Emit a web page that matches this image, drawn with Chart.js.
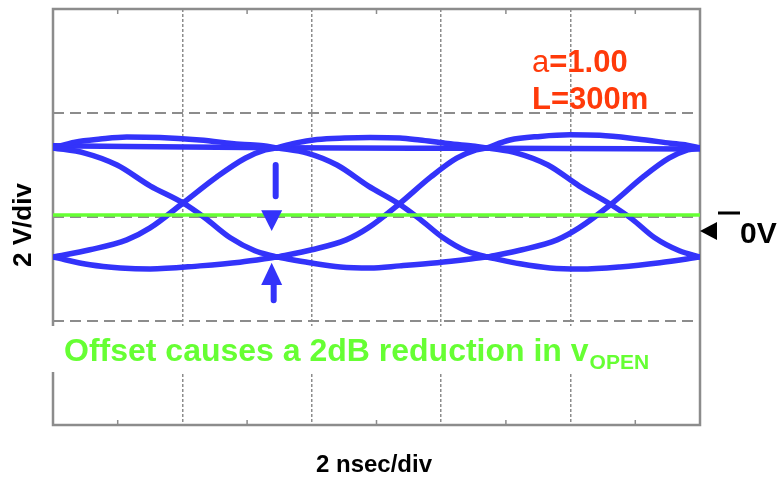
<!DOCTYPE html>
<html>
<head>
<meta charset="utf-8">
<script src="https://cdn.jsdelivr.net/npm/chart.js@4/dist/chart.umd.min.js"></script>
<style>
  html, body { margin: 0; padding: 0; background: #ffffff; }
  #wrap { position: relative; width: 780px; height: 477px; }
</style>
</head>
<body>
<div id="wrap"><canvas id="eye"></canvas></div>
<script>
// Eye diagram: time in ns (2 ns/div), amplitude in volts (2 V/div)
const xTicks = [0, 2, 4, 6, 8, 10];
const yTicks = [-4, -2, 0, 2, 4];

// falling transitions, one per bit period
const fallEdge1 = [[0,1.33],[0.49,1.23],[0.99,1.00],[1.50,0.60],[2.01,0.27],[2.35,-0.02],[2.74,-0.40],[3.12,-0.65],[3.46,-0.77]];
const fallEdge2 = [[3.46,1.33],[3.93,1.23],[4.39,1.00],[4.87,0.60],[5.35,0.25],[5.67,-0.04],[6.03,-0.40],[6.38,-0.65],[6.71,-0.77]];
const fallEdge3 = [[6.71,1.33],[7.17,1.23],[7.65,1.00],[8.13,0.60],[8.62,0.24],[8.95,-0.04],[9.30,-0.40],[9.68,-0.65],[10,-0.77]];

// rising transitions
const riseEdge1 = [[0,-0.77],[0.57,-0.63],[1.14,-0.44],[1.50,-0.21],[2.01,0.27],[2.53,0.77],[2.97,1.13],[3.28,1.29],[3.46,1.33]];
const riseEdge2 = [[3.46,-0.77],[4.00,-0.63],[4.53,-0.44],[4.87,-0.21],[5.35,0.25],[5.84,0.77],[6.24,1.13],[6.54,1.29],[6.71,1.33]];
const riseEdge3 = [[6.71,-0.77],[7.25,-0.63],[7.79,-0.44],[8.13,-0.21],[8.62,0.24],[9.12,0.77],[9.52,1.13],[9.81,1.29],[10,1.33]];

// overshoot humps on the "1" level
const upperArc1 = [[0,1.33],[0.34,1.44],[0.73,1.50],[1.14,1.54],[1.65,1.53],[2.27,1.48],[2.89,1.40],[3.25,1.37],[3.46,1.33]];
const upperArc2 = [[3.46,1.33],[3.74,1.42],[4.08,1.49],[4.51,1.52],[4.90,1.53],[5.36,1.52],[5.67,1.48],[6.06,1.42],[6.45,1.37],[6.71,1.33]];
const upperArc3 = [[6.71,1.33],[7.06,1.48],[7.53,1.55],[7.99,1.58],[8.45,1.57],[9.03,1.50],[9.54,1.42],[9.80,1.38],[10,1.33]];

// settled "1" level
const upperRail = [[0,1.37],[3.46,1.33],[6.71,1.32],[10,1.31]];

// undershoot dips on the "0" level
const lowerArc1 = [[0,-0.77],[0.57,-0.92],[1.04,-0.98],[1.50,-1.00],[2.27,-0.94],[2.89,-0.87],[3.46,-0.77]];
const lowerArc2 = [[3.46,-0.77],[3.97,-0.88],[4.44,-0.96],[4.90,-0.98],[5.36,-0.94],[5.94,-0.88],[6.71,-0.77]];
const lowerArc3 = [[6.71,-0.77],[7.22,-0.90],[7.68,-0.98],[8.15,-1.00],[8.76,-0.96],[9.38,-0.88],[10,-0.77]];

// decision threshold level
const thresholdLine = [[0,0.04],[10,0.04]];

// eye-opening markers (ns, V)
const markerX = 3.38;
const downShaft = [1.00, 0.40];
const downHead = [0.13, -0.27];
const upHead = [-0.88, -1.31];
const upShaft = [-1.31, -1.60];

const traces = [
  fallEdge1, fallEdge2, fallEdge3,
  riseEdge1, riseEdge2, riseEdge3,
  upperArc1, upperArc2, upperArc3,
  upperRail,
  lowerArc1, lowerArc2, lowerArc3
];

const BLUE = '#3333fa';
const GREEN = '#66ff33';
const ORANGE = '#ff3a0a';
const GRID = '#8c8c8c';
const FONT = '"Liberation Sans", Arial, Helvetica, sans-serif';

const toXY = arr => arr.map(p => ({ x: p[0], y: p[1] }));

const datasets = [{
  data: toXY(thresholdLine),
  borderColor: GREEN,
  borderWidth: 3.5,
  pointRadius: 0,
  order: -1
}].concat(traces.map(t => ({
  data: toXY(t),
  borderColor: BLUE,
  borderWidth: 5.5,
  pointRadius: 0,
  cubicInterpolationMode: 'monotone',
  borderCapStyle: 'round',
  borderJoinStyle: 'round'
})));

const scopeDecor = {
  id: 'scopeDecor',
  beforeDatasetsDraw(chart) {
    const { ctx, chartArea: a, scales: { x } } = chart;
    ctx.save();
    // frame
    ctx.strokeStyle = GRID;
    ctx.lineWidth = 2.5;
    ctx.setLineDash([]);
    ctx.strokeRect(a.left, a.top, a.right - a.left, a.bottom - a.top);
    // minor ticks on top and bottom edges
    ctx.lineWidth = 1.5;
    [1, 3, 5, 7, 9].forEach(v => {
      const px = x.getPixelForValue(v);
      ctx.beginPath();
      ctx.moveTo(px, a.top); ctx.lineTo(px, a.top + 5);
      ctx.moveTo(px, a.bottom); ctx.lineTo(px, a.bottom - 5);
      ctx.stroke();
    });
    // caption panel
    ctx.fillStyle = '#ffffff';
    ctx.fillRect(a.left - 4, 326, 612, 46);
    ctx.fillStyle = GREEN;
    ctx.textBaseline = 'alphabetic';
    ctx.textAlign = 'left';
    ctx.font = 'bold 32px ' + FONT;
    const main = 'Offset causes a 2dB reduction in v';
    ctx.fillText(main, 64, 361);
    const w = ctx.measureText(main).width;
    ctx.font = 'bold 21px ' + FONT;
    ctx.fillText('OPEN', 64 + w + 1, 369);
    ctx.restore();
  },
  afterDatasetsDraw(chart) {
    const { ctx, chartArea: a, scales: { x, y } } = chart;
    ctx.save();
    // eye-opening arrows
    const mx = x.getPixelForValue(markerX);
    ctx.strokeStyle = BLUE;
    ctx.fillStyle = BLUE;
    ctx.lineWidth = 6;
    ctx.lineCap = 'round';
    ctx.beginPath();
    ctx.moveTo(mx + 4, y.getPixelForValue(downShaft[0]));
    ctx.lineTo(mx + 4, y.getPixelForValue(downShaft[1]));
    ctx.moveTo(mx + 2, y.getPixelForValue(upShaft[0]));
    ctx.lineTo(mx + 2, y.getPixelForValue(upShaft[1]));
    ctx.stroke();
    const tri = (yBase, yTip) => {
      ctx.beginPath();
      ctx.moveTo(mx - 10.5, yBase);
      ctx.lineTo(mx + 10.5, yBase);
      ctx.lineTo(mx, yTip);
      ctx.closePath();
      ctx.fill();
    };
    tri(y.getPixelForValue(downHead[0]), y.getPixelForValue(downHead[1]));
    tri(y.getPixelForValue(upHead[1]), y.getPixelForValue(upHead[0]));

    // ground reference marker
    ctx.fillStyle = '#000000';
    ctx.beginPath();
    ctx.moveTo(a.right, 231);
    ctx.lineTo(a.right + 17, 222);
    ctx.lineTo(a.right + 17, 240);
    ctx.closePath();
    ctx.fill();
    ctx.fillRect(718, 211.5, 22, 3);
    ctx.font = 'bold 30px ' + FONT;
    ctx.textAlign = 'left';
    ctx.fillText('0V', 740, 243);

    // parameters
    ctx.fillStyle = ORANGE;
    ctx.font = '31px ' + FONT;
    ctx.fillText('a', 532, 72);
    const aw = ctx.measureText('a').width;
    ctx.font = 'bold 31px ' + FONT;
    ctx.fillText('=1.00', 532 + aw, 72);
    ctx.fillText('L=300m', 532, 109);

    // scale labels
    ctx.fillStyle = '#000000';
    ctx.textAlign = 'center';
    ctx.font = 'bold 24px ' + FONT;
    ctx.fillText('2 nsec/div', 374, 472);
    ctx.translate(31, 225);
    ctx.rotate(-Math.PI / 2);
    ctx.font = 'bold 26px ' + FONT;
    ctx.fillText('2 V/div', 0, 0);
    ctx.restore();
  }
};

new Chart(document.getElementById('eye'), {
  type: 'line',
  data: { datasets },
  options: {
    responsive: true,
    maintainAspectRatio: false,
    animation: false,
    events: [],
    layout: { padding: { left: 53, right: 80, top: 9, bottom: 52 } },
    plugins: { legend: { display: false }, tooltip: { enabled: false } },
    scales: {
      x: {
        type: 'linear',
        min: xTicks[0],
        max: xTicks[xTicks.length - 1],
        afterBuildTicks: s => { s.ticks = xTicks.map(v => ({ value: v })); },
        afterFit: s => { s.height = 0; },
        ticks: { display: false },
        border: { display: false, dash: [3, 2] },
        grid: {
          drawTicks: false,
          lineWidth: 1.5,
          color: c => (c.tick && (c.tick.value === xTicks[0] || c.tick.value === xTicks[xTicks.length - 1])) ? 'rgba(0,0,0,0)' : GRID
        }
      },
      y: {
        type: 'linear',
        min: yTicks[0],
        max: yTicks[yTicks.length - 1],
        afterBuildTicks: s => { s.ticks = yTicks.map(v => ({ value: v })); },
        afterFit: s => { s.width = 0; },
        ticks: { display: false },
        border: { display: false, dash: [11, 6] },
        grid: {
          drawTicks: false,
          lineWidth: 2,
          color: c => (c.tick && (c.tick.value === yTicks[0] || c.tick.value === yTicks[yTicks.length - 1])) ? 'rgba(0,0,0,0)' : GRID
        }
      }
    }
  },
  plugins: [scopeDecor]
});
</script>
</body>
</html>
